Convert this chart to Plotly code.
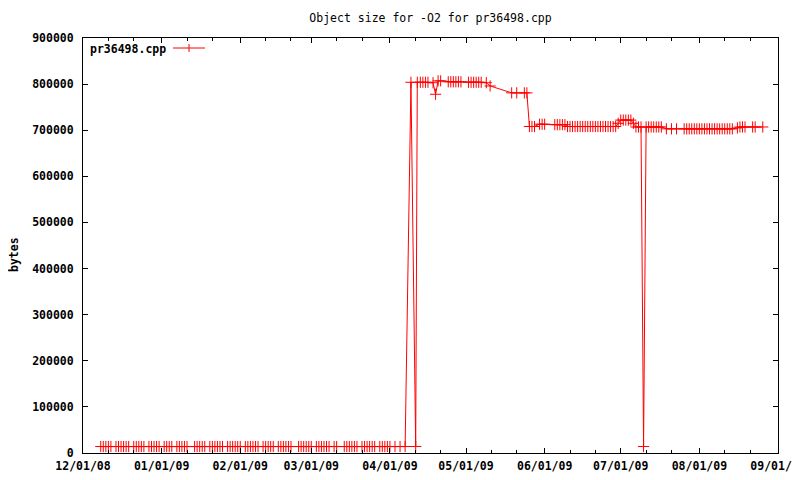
import plotly.graph_objects as go

# ---------------- data ----------------
build_dates = [
    # Dec 2008 - Jan 2009
    "2008-12-08", "2008-12-09", "2008-12-10", "2008-12-11", "2008-12-12", "2008-12-14",
    "2008-12-15", "2008-12-16", "2008-12-17", "2008-12-18", "2008-12-19", "2008-12-21",
    "2008-12-22", "2008-12-23", "2008-12-24", "2008-12-25", "2008-12-27", "2008-12-28",
    "2008-12-29", "2008-12-30", "2008-12-31", "2009-01-02", "2009-01-03", "2009-01-04",
    "2009-01-05", "2009-01-07", "2009-01-08", "2009-01-09", "2009-01-10", "2009-01-11",
    "2009-01-14", "2009-01-15", "2009-01-16", "2009-01-17", "2009-01-18", "2009-01-20",
    "2009-01-21", "2009-01-22", "2009-01-23", "2009-01-24", "2009-01-25", "2009-01-27",
    "2009-01-28", "2009-01-29", "2009-01-30", "2009-01-31", "2009-02-01", "2009-02-03",
    "2009-02-04", "2009-02-05", "2009-02-06", "2009-02-07", "2009-02-08",
    "2009-02-10", "2009-02-11", "2009-02-12", "2009-02-13", "2009-02-14", "2009-02-16",
    "2009-02-17", "2009-02-18", "2009-02-19", "2009-02-20", "2009-02-21",
    "2009-02-24", "2009-02-25", "2009-02-26", "2009-02-27", "2009-02-28", "2009-03-01",
    "2009-03-03", "2009-03-04", "2009-03-05", "2009-03-06", "2009-03-07", "2009-03-08",
    "2009-03-10", "2009-03-11",
    "2009-03-14", "2009-03-15", "2009-03-16", "2009-03-17", "2009-03-18", "2009-03-19",
    "2009-03-21", "2009-03-22", "2009-03-23", "2009-03-24", "2009-03-25", "2009-03-26",
    "2009-03-28", "2009-03-29", "2009-03-30", "2009-03-31", "2009-04-01", "2009-04-03",
    "2009-04-05", "2009-04-07",
    # April 2009 jump
    "2009-04-09 07:00", "2009-04-11 04:00", "2009-04-11 19:00",
    "2009-04-13", "2009-04-14", "2009-04-15", "2009-04-16", "2009-04-18", "2009-04-19",
    "2009-04-20", "2009-04-21", "2009-04-24", "2009-04-25", "2009-04-26", "2009-04-27",
    "2009-04-28", "2009-04-29",
    "2009-05-02", "2009-05-03", "2009-05-04", "2009-05-05", "2009-05-06", "2009-05-07",
    "2009-05-09", "2009-05-10 12:00", "2009-05-19", "2009-05-21", "2009-05-24", "2009-05-25",
    "2009-05-26", "2009-05-27", "2009-05-28", "2009-05-30", "2009-05-31", "2009-06-01",
    "2009-06-05", "2009-06-06", "2009-06-07", "2009-06-08", "2009-06-09",
    "2009-06-10", "2009-06-11", "2009-06-12", "2009-06-13", "2009-06-14", "2009-06-15",
    "2009-06-16", "2009-06-17", "2009-06-18", "2009-06-19", "2009-06-20", "2009-06-21",
    "2009-06-22", "2009-06-23", "2009-06-24", "2009-06-25", "2009-06-26", "2009-06-27",
    "2009-06-28", "2009-06-29",
    "2009-06-30", "2009-07-01", "2009-07-02", "2009-07-03", "2009-07-04", "2009-07-05",
    "2009-07-06", "2009-07-07", "2009-07-08", "2009-07-09", "2009-07-10",
    "2009-07-11", "2009-07-12", "2009-07-13", "2009-07-14", "2009-07-15", "2009-07-16",
    "2009-07-17",
    "2009-07-19", "2009-07-21", "2009-07-23",
    "2009-07-26", "2009-07-27", "2009-07-28", "2009-07-29", "2009-07-30", "2009-07-31",
    "2009-08-01", "2009-08-02", "2009-08-03", "2009-08-04", "2009-08-05", "2009-08-06",
    "2009-08-07", "2009-08-08", "2009-08-09", "2009-08-10", "2009-08-11", "2009-08-12",
    "2009-08-13", "2009-08-14",
    "2009-08-16", "2009-08-17", "2009-08-18", "2009-08-19", "2009-08-22", "2009-08-23",
    "2009-08-26",
]

object_bytes = [
    14000, 14000, 14000, 14000, 14000, 14000,
    14000, 14000, 14000, 14000, 14000, 14000,
    14000, 14000, 14000, 14000, 14000, 14000,
    14000, 14000, 14000, 14000, 14000, 14000,
    14000, 14000, 14000, 14000, 14000, 14000,
    14000, 14000, 14000, 14000, 14000, 14000,
    14000, 14000, 14000, 14000, 14000, 14000,
    14000, 14000, 14000, 14000, 14000, 14000,
    14000, 14000, 14000, 14000, 14000,
    14000, 14000, 14000, 14000, 14000, 14000,
    14000, 14000, 14000, 14000, 14000,
    14000, 14000, 14000, 14000, 14000, 14000,
    14000, 14000, 14000, 14000, 14000, 14000,
    14000, 14000,
    14000, 14000, 14000, 14000, 14000, 14000,
    14000, 14000, 14000, 14000, 14000, 14000,
    14000, 14000, 14000, 14000, 14000, 14000,
    14000, 14000,
    804000, 14000, 804000,
    804000, 804000, 804000, 804000, 803000, 778000,
    807000, 807000, 805000, 805000, 805000, 805000,
    805000, 805000,
    804000, 804000, 804000, 804000, 804000, 804000,
    803000, 796000, 781000, 781000, 781000, 781000,
    708000, 708000, 708000, 713000, 713000, 713000,
    712000, 712000, 712000, 712000, 712000,
    708000, 708000, 708000, 708000, 708000, 708000,
    708000, 708000, 708000, 708000, 708000, 708000,
    708000, 708000, 708000, 708000, 708000, 708000,
    708000, 708000,
    715000, 722000, 722000, 722000, 722000, 722000,
    715000, 707000, 707000, 707000, 14000,
    707000, 707000, 707000, 707000, 707000, 707000,
    707000,
    703000, 703000, 703000,
    703000, 703000, 703000, 703000, 703000, 703000,
    703000, 703000, 703000, 703000, 703000, 703000,
    703000, 703000, 703000, 703000, 703000, 703000,
    703000, 703000,
    705000, 707000, 707000, 707000, 707000, 707000,
    707000,
]

month_ticks = ["2008-12-01", "2009-01-01", "2009-02-01", "2009-03-01", "2009-04-01",
               "2009-05-01", "2009-06-01", "2009-07-01", "2009-08-01", "2009-09-01"]
minor_ticks = [f"{y}-{m:02d}-{d:02d}" for (y, m) in
               [(2008, 12), (2009, 1), (2009, 2), (2009, 3), (2009, 4), (2009, 5),
                (2009, 6), (2009, 7), (2009, 8)] for d in (11, 21)]

series_name = "pr36498.cpp"
chart_title = "Object size for -O2 for pr36498.cpp"

# ---------------- figure ----------------
RED = "#ff0000"
FONT = "DejaVu Sans Mono"
OFF = 8  # page body margin added by the browser
W, H = 800, 480
# desired plot-area edges in screen pixels
SX0, SX1, SY0, SY1 = 83, 778, 38, 453
L, T = SX0 - OFF, SY0 - OFF
R, B = W - (SX1 - OFF), H - (SY1 - OFF)
PW, PH = SX1 - SX0, SY1 - SY0


def px(xs):
    return (xs - SX0) / PW


def py(ys):
    return (SY1 - ys) / PH


fig = go.Figure()
fig.add_trace(go.Scatter(
    x=build_dates, y=object_bytes, name=series_name,
    mode="lines+markers",
    line=dict(color=RED, width=1),
    marker=dict(symbol="cross-thin", size=8, color=RED, line=dict(color=RED, width=1)),
    showlegend=False,
))

tickfont = dict(family=FONT, size=11.5, color="black", weight="bold")

fig.update_layout(
    width=W, height=H,
    margin=dict(l=L, r=R, t=T, b=B),
    paper_bgcolor="white", plot_bgcolor="white",
    title=dict(text=chart_title, x=0.5, xref="paper", xanchor="center",
               y=1 - (18 - OFF) / H, yref="container", yanchor="middle",
               font=dict(family=FONT, size=11.5, color="black")),
    xaxis=dict(
        type="date", range=["2008-12-01", "2009-09-01"],
        tickmode="array", tickvals=month_ticks, tickformat="%m/%d/%y",
        ticks="inside", ticklen=5, tickwidth=1, tickcolor="black",
        showline=True, linecolor="black", linewidth=1, mirror="ticks",
        showgrid=False, zeroline=False, tickfont=tickfont,
        ticklabeloverflow="allow", ticklabelstandoff=2,
        minor=dict(tickmode="array", tickvals=minor_ticks, ticks="inside",
                   ticklen=3, tickwidth=1, tickcolor="black", showgrid=False),
        automargin=False,
    ),
    yaxis=dict(
        range=[0, 900000], tickmode="linear", tick0=0, dtick=100000, tickformat="d",
        ticks="inside", ticklen=5, tickwidth=1, tickcolor="black",
        showline=True, linecolor="black", linewidth=1, mirror="ticks",
        showgrid=False, zeroline=False, tickfont=tickfont,
        ticklabelstandoff=6, automargin=False,
    ),
    showlegend=False,
)

# y-axis title
fig.add_annotation(text="bytes", xref="paper", yref="paper", x=px(14), y=py(255),
                   xanchor="center", yanchor="middle", textangle=-90, showarrow=False,
                   font=dict(family=FONT, size=11.5, color="black", weight="bold"))

# gnuplot-style key: text then line sample with point
fig.add_annotation(text=series_name, xref="paper", yref="paper", x=px(88), y=py(49),
                   xanchor="left", yanchor="middle", showarrow=False,
                   font=dict(family=FONT, size=11.5, color="black", weight="bold"))
fig.add_shape(type="line", xref="paper", yref="paper", x0=px(173), x1=px(205),
              y0=py(48), y1=py(48), line=dict(color=RED, width=1))
fig.add_shape(type="line", xref="paper", yref="paper", x0=px(189), x1=px(189),
              y0=py(44), y1=py(52), line=dict(color=RED, width=1))

fig.write_html("out.html")
